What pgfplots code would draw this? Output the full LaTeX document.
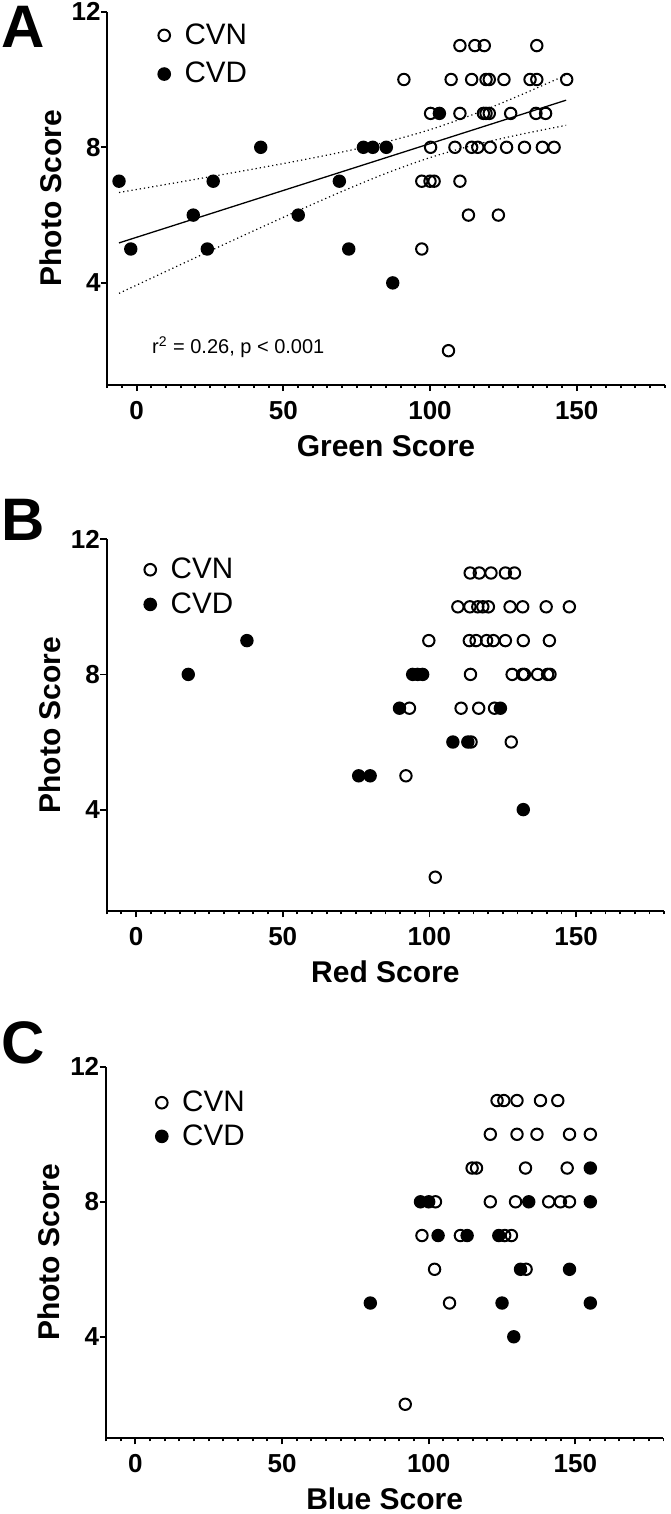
\documentclass[border=0pt]{standalone}
\usepackage{pgfplots}
\pgfplotsset{compat=1.18}
\usepackage{fontspec}
\setmainfont{Liberation Sans}

\pgfplotsset{
  panel/.style={
    scale only axis,
    width=278.7pt,
    xmin=-10, xmax=180, ymin=1, ymax=12,
    axis lines*=left,
    axis line style={line width=1pt, black},
    xtick={0,50,100,150},
    ytick={4,8,12},
    minor xtick={-10,-5,...,180},
    tick align=outside,
    major tick length=3.2pt,
    minor tick length=1.7pt,
    every tick/.style={black, line width=0.9pt},
    /pgf/number format/assume math mode=true,
    tick label style={font=\bfseries\fontsize{13}{15}\selectfont},
    xticklabel style={inner sep=0pt, yshift=-5pt},
    yticklabel style={inner sep=0pt, anchor=east},
    every axis x label/.style={at={(axis description cs:0.5,-0.193)}, anchor=base,
      inner sep=0pt, font=\bfseries\fontsize{15}{18}\selectfont},
    every axis y label/.style={at={(axis description cs:-0.0813,0.5)}, rotate=90,
      anchor=south, inner sep=0pt, font=\bfseries\fontsize{15}{18}\selectfont},
    ylabel={Photo Score},
    clip=false,
    legend style={draw=none, fill=none, anchor=north west,
      font=\fontsize{14.8}{17}\selectfont, inner sep=0pt, column sep=5.3pt},
    legend cell align=left,
    legend image code/.code={\draw[#1, mark size=2.9pt, line width=0.7pt] plot coordinates {(0pt,0pt)};},
  },
  cvn/.style={only marks, mark=o, mark size=2.85pt, mark options={line width=1pt, black}},
  cvd/.style={only marks, mark=*, mark size=2.85pt, mark options={line width=1pt, black, fill=black}},
}

\begin{document}
\begin{tikzpicture}
\useasboundingbox (0pt,0pt) rectangle (335pt,-757pt);

% ---------- A: green ----------
\begin{axis}[panel, at={(53.65pt,-192.3pt)}, anchor=south west, height=186.45pt,
  xlabel={Green Score},
  legend style={at={(axis description cs:0.091,0.98)}, row sep=3.5pt}]
\addplot[cvn] coordinates {
  (110.2,11)(115.3,11)(118.5,11)(136.4,11)
  (91.1,10)(107.2,10)(114.2,10)(119.1,10)(120.2,10)(125.2,10)(134.1,10)(136.4,10)(146.6,10)
  (100.2,9)(110.2,9)(118.2,9)(119.1,9)(120.2,9)(127.5,9)(136.1,9)(139.4,9)
  (100.2,8)(108.5,8)(114.2,8)(116.3,8)(120.5,8)(126.1,8)(132.2,8)(138.3,8)(142.3,8)
  (97.2,7)(100.0,7)(101.4,7)(110.2,7)
  (113.1,6)(123.3,6)
  (97.2,5)
  (106.3,2)
};
\addlegendentry{CVN}
\addplot[cvd] coordinates {
  (-6,7)(-2,5)(19.3,6)(24.1,5)(26.1,7)(42.3,8)(55.1,6)(69.1,7)(72.3,5)
  (77.3,8)(80.5,8)(85.1,8)(87.3,4)(103.2,9)
};
\addlegendentry{CVD}
% linear fit with 95% confidence band
\addplot[black, line width=0.65pt, forget plot] coordinates {(-6,5.18) (146.4,9.39)};
\addplot[black, line width=0.6pt, dash pattern=on 0.6pt off 1.5pt, smooth, forget plot] coordinates {
  (-6,6.667)(10,6.904)(25,7.131)(40,7.361)(55,7.602)(70,7.860)(85,8.156)(100,8.520)(115,8.978)(130,9.509)(146.4,10.131)};
\addplot[black, line width=0.6pt, dash pattern=on 0.6pt off 1.5pt, smooth, forget plot] coordinates {
  (-6,3.693)(10,4.340)(25,4.943)(40,5.541)(55,6.128)(70,6.698)(85,7.232)(100,7.696)(115,8.066)(130,8.365)(146.4,8.649)};
\node[anchor=base west, inner sep=0pt, font=\fontsize{10}{12}\selectfont]
  at (axis description cs:0.0797,0.0834) {r\textsuperscript{2} = 0.26, p < 0.001};
\end{axis}

% ---------- B: red ----------
\begin{axis}[panel, at={(53.35pt,-455.5pt)}, anchor=south west, height=185.9pt,
  xlabel={Red Score},
  legend style={at={(axis description cs:0.067,0.9615)}, row sep=1.5pt}]
\addplot[cvn] coordinates {
  (113.9,11)(117.0,11)(121.0,11)(125.9,11)(129.0,11)
  (109.7,10)(113.8,10)(116.5,10)(118.2,10)(120.1,10)(127.5,10)(131.8,10)(139.8,10)(147.7,10)
  (99.8,9)(113.6,9)(115.9,9)(119.5,9)(121.8,9)(125.9,9)(132.0,9)(140.9,9)
  (114.0,8)(128.2,8)(131.8,8)(132.4,8)(136.9,8)(140.3,8)(141.1,8)
  (93.2,7)(110.8,7)(116.8,7)(122.2,7)
  (114.2,6)(127.9,6)
  (92.0,5)
  (102.0,2)
};
\addlegendentry{CVN}
\addplot[cvd] coordinates {
  (17.8,8)(37.8,9)(75.9,5)(79.8,5)(89.8,7)(94.3,8)(96.0,8)(97.7,8)
  (108.0,6)(113.1,6)(124.2,7)(132.0,4)
};
\addlegendentry{CVD}
\end{axis}

% ---------- C: blue ----------
\begin{axis}[panel, at={(53pt,-719pt)}, anchor=south west, height=185.6pt,
  xlabel={Blue Score},
  legend style={at={(axis description cs:0.089,0.947)}, row sep=1pt}]
\addplot[cvn] coordinates {
  (123.3,11)(125.6,11)(130.1,11)(138.1,11)(144.0,11)
  (121.0,10)(130.1,10)(136.9,10)(148.0,10)(155.1,10)
  (114.8,9)(116.3,9)(133.0,9)(147.2,9)
  (102.3,8)(121.0,8)(129.6,8)(140.9,8)(144.9,8)(148.0,8)
  (97.7,7)(110.8,7)(125.9,7)(128.2,7)
  (102.0,6)(133.2,6)
  (107.1,5)
  (92.0,2)
};
\addlegendentry{CVN}
\addplot[cvd] coordinates {
  (155.1,9)(97.2,8)(100.0,8)(134.1,8)(155.1,8)(103.2,7)(113.1,7)(123.9,7)
  (131.3,6)(148.0,6)(80.1,5)(125.0,5)(155.1,5)(129.0,4)
};
\addlegendentry{CVD}
\end{axis}

% panel letters
\node[anchor=base west, inner sep=0pt, font=\bfseries\fontsize{30}{36}\selectfont] at (0.5pt,-24pt) {A};
\node[anchor=base west, inner sep=0pt, font=\bfseries\fontsize{30}{36}\selectfont] at (0.5pt,-270pt) {B};
\node[anchor=base west, inner sep=0pt, font=\bfseries\fontsize{30}{36}\selectfont] at (0.5pt,-531.5pt) {C};
\end{tikzpicture}
\end{document}
